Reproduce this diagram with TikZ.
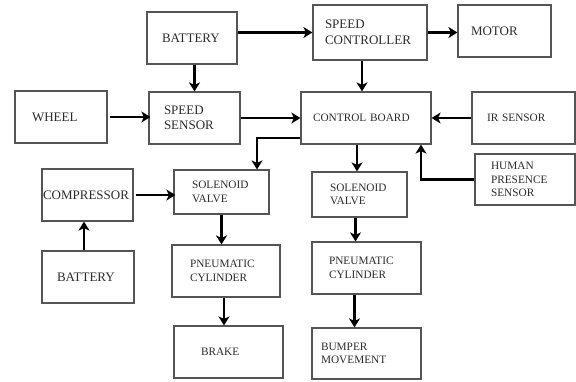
\documentclass[tikz,border=0pt]{standalone}
\usepackage{fontspec}
\setmainfont{Liberation Serif}
\usepackage{tikz}
\usetikzlibrary{arrows.meta, calc}
\definecolor{boxline}{HTML}{555555}
\definecolor{ink}{HTML}{2B2B2B}
\newcommand{\bigtxt}{\fontsize{13}{15.5}\selectfont}
\newcommand{\smltxt}{\fontsize{11.3}{13.5}\selectfont}
\begin{document}
\begin{tikzpicture}[
    x=1pt, y=-1pt,
    blk/.style={rectangle, draw=boxline, line width=1.2pt, align=left, inner ysep=2pt,
                text=ink, font=\bigtxt},
    sml/.style={font=\smltxt},
    pad/.style n args={3}{inner xsep=#1, text width=#2, minimum height=#3},
    arr/.style={-{Stealth[length=9pt, width=11pt, inset=2.5pt]}, line width=2.5pt, black}
  ]
    \useasboundingbox (0,0) rectangle (576,381);
    % top row
    \node[blk, pad={15pt}{60pt}{52pt}] (battop) at (192,38) {BATTERY};
    \node[blk, pad={12pt}{90pt}{55pt}] (spdctl) at (370,32.5) {SPEED\\CONTROLLER};
    \node[blk, pad={13pt}{67pt}{52pt}] (motor) at (504.5,31) {MOTOR};
    % second row
    \node[blk, pad={17pt}{58pt}{52pt}] (wheel) at (61,117) {WHEEL};
    \node[blk, pad={15pt}{61pt}{52pt}] (spdsen) at (194.5,118) {SPEED\\SENSOR};
    \node[blk, sml, pad={12pt}{106pt}{52pt}] (ctrl) at (366,118) {CONTROL BOARD};
    \node[blk, sml, pad={15pt}{73pt}{52pt}] (irsen) at (523.5,118) {IR SENSOR};
    \node[blk, sml, pad={16pt}{68pt}{51pt}] (human) at (525,179.5) {HUMAN\\PRESENCE\\SENSOR};
    % brake branch
    \node[blk, pad={1pt}{89pt}{52pt}] (comp) at (87.5,195) {COMPRESSOR};
    \node[blk, pad={15pt}{62pt}{52pt}] (batbot) at (88,277) {BATTERY};
    \node[blk, sml, pad={18pt}{59pt}{44pt}] (valveA) at (221.5,192) {SOLENOID\\VALVE};
    \node[blk, sml, pad={18pt}{72pt}{52pt}] (cylA) at (226,271) {PNEUMATIC\\CYLINDER};
    \node[blk, sml, pad={27pt}{55pt}{52pt}] (brake) at (228.5,352) {BRAKE};
    % bumper branch
    \node[blk, sml, pad={18pt}{59pt}{45pt}] (valveB) at (359.5,194.5) {SOLENOID\\VALVE};
    \node[blk, sml, pad={17pt}{75pt}{52pt}] (cylB) at (366.5,268) {PNEUMATIC\\CYLINDER};
    \node[blk, sml, pad={9pt}{91pt}{51pt}] (bumper) at (366.5,353.5) {BUMPER\\MOVEMENT};

    % connectors
    \draw[arr] (battop.east |- spdctl.west) -- (spdctl.west);
    \draw[arr] (battop.south -| spdsen.north) -- (spdsen.north);
    \draw[arr] (spdctl.east) -- (spdctl.east -| motor.west);
    \draw[arr] ([xshift=-8pt]spdctl.south) -- ([xshift=-8pt]spdctl.south |- ctrl.north);
    \draw[arr] ([xshift=2pt]wheel.east) -- ([xshift=2pt]wheel.east -| spdsen.west);
    \draw[arr] (spdsen) -- (ctrl);
    \draw[arr] (irsen) -- (ctrl);
    \draw[arr] (human.west) -| ([xshift=55pt]ctrl.south);
    \draw[arr] ([yshift=-20pt]ctrl.west) -| ([xshift=35.5pt]valveA.north);
    \draw[arr] ([xshift=-9pt]ctrl.south) -- ([xshift=-9pt]ctrl.south |- valveB.north);
    \draw[arr] ([xshift=2pt]comp.east) -- ([xshift=2pt]comp.east -| valveA.west);
    \draw[arr] ([xshift=-4pt]batbot.north) -- ([xshift=-4pt]batbot.north |- comp.south);
    \draw[arr] (valveA.south) -- (valveA.south |- cylA.north);
    \draw[arr] ([xshift=-2pt]cylA.south) -- ([xshift=-2pt]cylA.south |- brake.north);
    \draw[arr] ([xshift=-4pt]valveB.south) -- ([xshift=-4pt]valveB.south |- cylB.north);
    \draw[arr] ([xshift=-12pt]cylB.south) -- ([xshift=-12pt]cylB.south |- bumper.north);
\end{tikzpicture}
\end{document}
